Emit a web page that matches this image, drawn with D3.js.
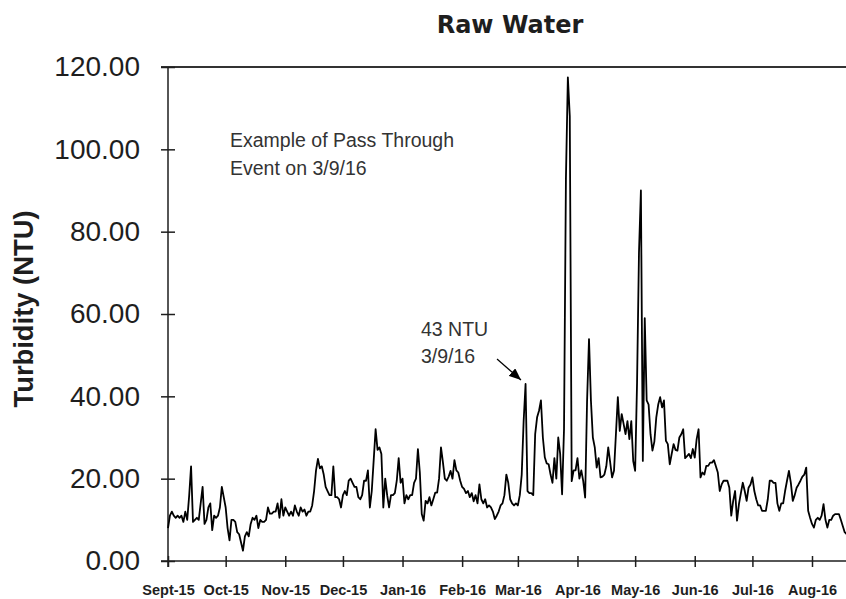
<!DOCTYPE html>
<html>
<head>
<meta charset="utf-8">
<script src="https://cdn.jsdelivr.net/npm/d3@7"></script>
<style>
  body { margin: 0; background: #fff; }
  svg { display: block; }
</style>
</head>
<body>
<svg width="846" height="599"></svg>
<script>
// daily raw water turbidity (NTU), one array per month
const sep15 = [8, 11, 12, 11, 10.5, 11, 10.5, 11, 9.5, 12, 10, 15.8, 23, 9.5, 10, 10.5, 10, 14, 18, 9,
  10, 13, 14, 7.5, 11, 10.5, 11, 13, 18, 15.5];
const oct15 = [13, 8, 5, 10, 10, 9.5, 7, 6.5, 4.5, 2.5, 6, 7, 6, 9, 10.5, 10, 11, 8, 10, 9.5,
  9.5, 10, 13, 11.5, 11.5, 12, 12, 14, 10.5, 15, 11];
const nov15 = [13, 12, 11, 12, 11, 13.5, 12, 11, 13, 12, 12.5, 11, 12, 12, 13.5, 17, 22, 24.8, 22.5, 23,
  21, 18, 17, 16, 16, 23, 15.5, 15.5, 15, 13];
const dec15 = [16, 17, 16, 19.5, 20, 19, 18, 18, 15.5, 15, 16, 19.5, 19.5, 22, 13, 17, 24.5, 32, 27, 27.6,
  26, 13, 20, 16, 13, 16, 16, 16.5, 19.5, 25, 19];
const jan16 = [20, 14, 16, 15, 16, 16, 19, 20, 27.2, 21.5, 11.4, 9.8, 14.6, 14, 15.5, 13.5, 15, 16.6, 16.6, 20,
  27.6, 24, 20, 19.5, 20.5, 21.9, 20, 24.5, 22, 21.5, 19.5];
const feb16 = [18, 17.5, 16.5, 17, 15.5, 16.5, 14.5, 16, 14, 18.6, 15, 14, 15, 13, 13.5, 13, 12, 10.2, 11, 12,
  13.5, 14, 16, 21, 19, 15, 14, 13.5, 14];
const mar16 = [13.5, 16, 21, 34, 43, 17, 16.5, 16.5, 16, 30.8, 34.9, 36.5, 39, 30, 25.2, 23.7, 23.5, 21, 19, 25,
  20, 30, 26, 16.2, 32, 93, 117.5, 108, 19.4, 22, 22];
const apr16 = [25, 20, 22, 19.4, 15.4, 39, 53.9, 39, 30, 27.6, 22.7, 25, 20.3, 20.5, 21, 23, 27.6, 24, 20.3, 21.9,
  30.8, 39.8, 31.6, 35.7, 33.3, 30.8, 34, 29.6, 34, 24.3];
const may16 = [21.9, 43.4, 75, 90, 24.3, 59, 39, 38, 30.8, 26.8, 29, 34.9, 38, 39.8, 37.3, 39, 29.2, 28.4, 23.5, 26,
  28.4, 27, 26.8, 30, 30.8, 32, 25, 25.5, 26, 25, 27.2];
const jun16 = [25.1, 29.6, 32, 20.3, 21.5, 21, 23.1, 23.1, 23.9, 23.9, 24.5, 23, 21.5, 17, 18.6, 19.5, 19.5, 19.5, 17.8, 11,
  14.6, 17, 9.8, 13.8, 16.5, 19, 17, 14.6, 17.8, 18.6];
const jul16 = [20.3, 17, 15, 13.5, 13.5, 12.2, 12.2, 12.2, 15, 19.5, 19.5, 19, 19, 14, 12.2, 14, 14, 17, 19.5, 21.9,
  19, 14.6, 16, 17.8, 18.6, 19.5, 20.5, 21, 22.7, 12.2, 10.5];
const aug16 = [9, 8.1, 10, 10.5, 10, 11, 13.8, 10, 8.1, 10, 10, 11, 11.4, 11.4, 11.4, 10, 8.5, 7, 6.5];

const monthTicks = ["2015-09", "2015-10", "2015-11", "2015-12", "2016-01", "2016-02",
  "2016-03", "2016-04", "2016-05", "2016-06", "2016-07", "2016-08"];
const yTicks = [0, 20, 40, 60, 80, 100, 120];

const svg = d3.select("svg"),
    width = +svg.attr("width"),
    height = +svg.attr("height");

const startDate = new Date(2015, 8, 1);
const values = [].concat(sep15, oct15, nov15, dec15, jan16, feb16, mar16, apr16, may16, jun16, jul16, aug16);
const data = values.map((v, i) => ({ date: d3.timeDay.offset(startDate, i), value: v }));

const parseMonth = d3.timeParse("%Y-%m");
const months = monthTicks.map(parseMonth);

// Sept-15 tick at 168, Aug-16 tick at 812, the chart runs past the right edge
const x = d3.scaleTime()
    .domain([months[0], months[months.length - 1]])
    .range([168, 812]);

const y = d3.scaleLinear()
    .domain([0, 120])
    .range([561, 67]);

const ink = "#1e1e1e";

// title
svg.append("text")
    .attr("x", 510).attr("y", 33)
    .attr("text-anchor", "middle")
    .style("font-family", "'DejaVu Sans', Verdana, sans-serif")
    .style("font-weight", "bold")
    .style("font-size", "24px")
    .style("fill", ink)
    .text("Raw Water");

// y axis title
svg.append("text")
    .attr("transform", "translate(33,309) rotate(-90)")
    .attr("text-anchor", "middle")
    .attr("textLength", 197)
    .attr("lengthAdjust", "spacingAndGlyphs")
    .style("font-family", "'Liberation Sans', Arial, sans-serif")
    .style("font-weight", "bold")
    .style("font-size", "27px")
    .style("fill", ink)
    .text("Turbidity (NTU)");

// frame lines: top edge and bottom axis run to the right edge
svg.append("line")
    .attr("x1", 161).attr("x2", width)
    .attr("y1", y(120)).attr("y2", y(120))
    .style("stroke", "#333").style("stroke-width", 1.8);
svg.append("line")
    .attr("x1", 161).attr("x2", width)
    .attr("y1", y(0)).attr("y2", y(0))
    .style("stroke", ink).style("stroke-width", 1.5);
svg.append("line")
    .attr("x1", x(months[0])).attr("x2", x(months[0]))
    .attr("y1", y(120)).attr("y2", y(0) + 6)
    .style("stroke", ink).style("stroke-width", 1.5);

// y axis
const yAxis = svg.append("g")
    .attr("transform", `translate(${x(months[0])},0)`)
    .call(d3.axisLeft(y)
        .tickValues(yTicks)
        .tickFormat(d3.format(".2f"))
        .tickSizeOuter(0)
        .tickSizeInner(7)
        .tickPadding(21));
yAxis.select(".domain").remove();
yAxis.selectAll(".tick line")
    .attr("x1", -7).attr("x2", 7)
    .style("stroke", ink).style("stroke-width", 1.5);
yAxis.selectAll(".tick text")
    .style("font-family", "'Liberation Sans', Arial, sans-serif")
    .style("font-size", "28px")
    .style("fill", ink);

// x axis
const fmtMonth = d => (d.getMonth() === 8 ? "Sept-" + d3.timeFormat("%y")(d) : d3.timeFormat("%b-%y")(d));
const xAxis = svg.append("g")
    .attr("transform", `translate(0,${y(0)})`)
    .call(d3.axisBottom(x)
        .tickValues(months)
        .tickFormat(fmtMonth)
        .tickSizeOuter(0)
        .tickSizeInner(6)
        .tickPadding(18));
xAxis.select(".domain").remove();
xAxis.selectAll(".tick line")
    .attr("y1", -5).attr("y2", 6)
    .style("stroke", ink).style("stroke-width", 1.5);
xAxis.selectAll(".tick text")
    .style("font-family", "'Liberation Sans', Arial, sans-serif")
    .style("font-weight", "bold")
    .style("font-size", "14.5px")
    .style("fill", ink);

// turbidity line
svg.append("path")
    .datum(data)
    .attr("fill", "none")
    .attr("stroke", "#000")
    .attr("stroke-width", 1.8)
    .attr("stroke-linejoin", "round")
    .attr("d", d3.line()
        .x(d => x(d.date))
        .y(d => y(d.value)));

// annotations
const note = svg.append("g")
    .style("font-family", "'Liberation Sans', Arial, sans-serif")
    .style("font-size", "19.5px")
    .style("fill", "#333");
note.append("text").attr("x", 230).attr("y", 147).text("Example of Pass Through");
note.append("text").attr("x", 230).attr("y", 175).text("Event on 3/9/16");
note.append("text").attr("x", 421).attr("y", 336).text("43 NTU");
note.append("text").attr("x", 421).attr("y", 363).text("3/9/16");

svg.append("defs").append("marker")
    .attr("id", "head")
    .attr("markerUnits", "userSpaceOnUse")
    .attr("viewBox", "0 0 12 10")
    .attr("refX", 12).attr("refY", 5)
    .attr("markerWidth", 12).attr("markerHeight", 10)
    .attr("orient", "auto")
  .append("path")
    .attr("d", "M0,0 L12,5 L0,10 Z")
    .style("fill", "#000");

svg.append("line")
    .attr("x1", 497).attr("y1", 359)
    .attr("x2", 521).attr("y2", 380)
    .attr("marker-end", "url(#head)")
    .style("stroke", "#000").style("stroke-width", 1.2);
</script>
</body>
</html>
